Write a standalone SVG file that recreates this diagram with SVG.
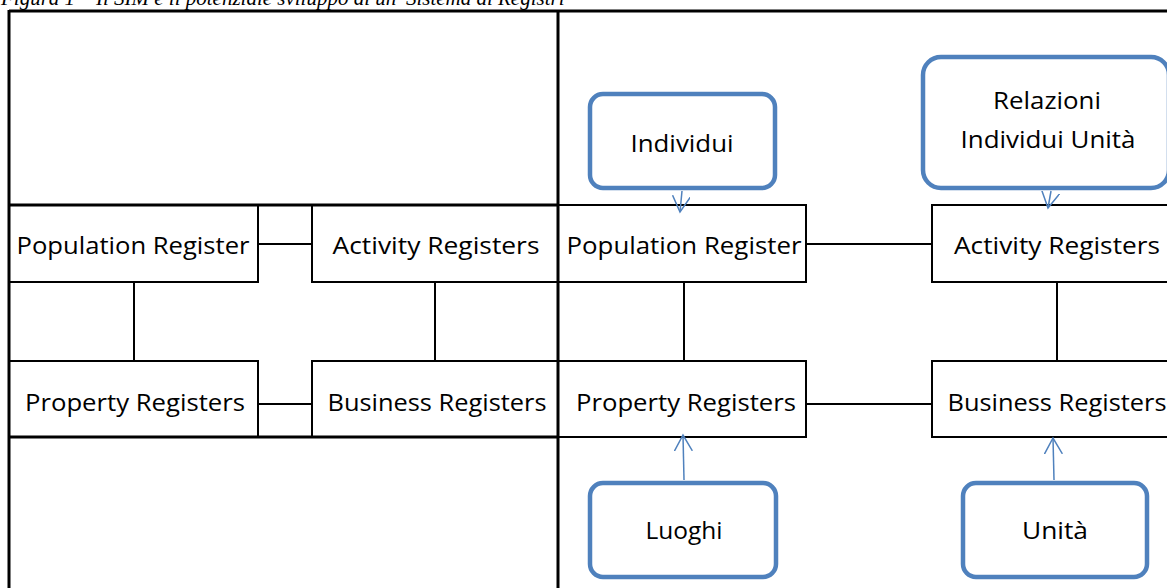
<svg xmlns="http://www.w3.org/2000/svg" width="1167" height="588" viewBox="0 0 1167 588">
<style>
.cap{font-family:"Liberation Serif",serif;font-style:italic;font-size:20px;fill:#000}
.t{font-family:"Open Sans","Liberation Sans",sans-serif;font-size:23px;fill:#000;text-anchor:middle}
.box{fill:#fff;stroke:#000;stroke-width:2}
.frame{fill:none;stroke:#000;stroke-width:3}
.conn{fill:none;stroke:#000;stroke-width:2}
.blue{fill:#fff;stroke:#4F81BD;stroke-width:4.5}
.arr{fill:none;stroke:#4F81BD;stroke-width:1.5}
</style>
<defs>
<marker id="ah" markerWidth="18" markerHeight="20" refX="16" refY="9" orient="auto" markerUnits="userSpaceOnUse">
<path d="M0,0 L16,9 L0,18" fill="none" stroke="#4F81BD" stroke-width="1.5"/>
</marker>
</defs>
<rect width="1167" height="588" fill="#fff"/>
<text class="cap" x="1" y="5" textLength="568" lengthAdjust="spacingAndGlyphs">Figura 1 – Il SIM e il potenziale sviluppo di un 'Sistema di Registri'</text>

<g id="left-pop"><rect class="box" x="9" y="205" width="249" height="77"/><text class="t" x="133" y="254" textLength="233" lengthAdjust="spacingAndGlyphs">Population Register</text></g>
<g id="left-act"><rect class="box" x="312" y="205" width="246" height="77"/><text class="t" x="436" y="254" textLength="207" lengthAdjust="spacingAndGlyphs">Activity Registers</text></g>
<g id="left-prop"><rect class="box" x="9" y="361" width="249" height="76"/><text class="t" x="135" y="411" textLength="220" lengthAdjust="spacingAndGlyphs">Property Registers</text></g>
<g id="left-bus"><rect class="box" x="312" y="361" width="246" height="76"/><text class="t" x="437" y="411" textLength="219" lengthAdjust="spacingAndGlyphs">Business Registers</text></g>

<g id="right-pop"><rect class="box" x="558" y="205" width="248" height="77"/><text class="t" x="684" y="254" textLength="235" lengthAdjust="spacingAndGlyphs">Population Register</text></g>
<g id="right-act"><rect class="box" x="932" y="205" width="250" height="77"/><text class="t" x="1057" y="254" textLength="206" lengthAdjust="spacingAndGlyphs">Activity Registers</text></g>
<g id="right-prop"><rect class="box" x="558" y="361" width="248" height="76"/><text class="t" x="686" y="411" textLength="220" lengthAdjust="spacingAndGlyphs">Property Registers</text></g>
<g id="right-bus"><rect class="box" x="932" y="361" width="250" height="76"/><text class="t" x="1057" y="411" textLength="219" lengthAdjust="spacingAndGlyphs">Business Registers</text></g>

<g id="frame">
<line class="frame" x1="9" y1="11" x2="1167" y2="11"/>
<line class="frame" x1="9" y1="10" x2="9" y2="588"/>
<line class="frame" x1="558" y1="10" x2="558" y2="588"/>
<line class="frame" x1="9" y1="205" x2="558" y2="205"/>
<line class="frame" x1="9" y1="437" x2="558" y2="437"/>
</g>

<g id="individui"><rect class="blue" x="590" y="94" width="185" height="94" rx="13"/><text class="t" x="682" y="152" textLength="103" lengthAdjust="spacingAndGlyphs">Individui</text></g>
<g id="relazioni"><rect class="blue" x="923" y="57" width="246" height="131" rx="18"/><text class="t" x="1047" y="109" textLength="108" lengthAdjust="spacingAndGlyphs">Relazioni</text><text class="t" x="1048" y="148" textLength="175" lengthAdjust="spacingAndGlyphs">Individui Unità</text></g>
<g id="luoghi"><rect class="blue" x="590" y="483" width="186" height="94" rx="13"/><text class="t" x="684" y="539" textLength="77" lengthAdjust="spacingAndGlyphs">Luoghi</text></g>
<g id="unita"><rect class="blue" x="963" y="483" width="184" height="94" rx="13"/><text class="t" x="1055" y="539" textLength="66" lengthAdjust="spacingAndGlyphs">Unità</text></g>

<g id="connectors">
<line class="conn" x1="258" y1="244" x2="312" y2="244"/>
<line class="conn" x1="258" y1="404" x2="312" y2="404"/>
<line class="conn" x1="134" y1="283" x2="134" y2="360"/>
<line class="conn" x1="435" y1="283" x2="435" y2="360"/>
<line class="conn" x1="807" y1="244" x2="931" y2="244"/>
<line class="conn" x1="807" y1="404" x2="931" y2="404"/>
<line class="conn" x1="684" y1="283" x2="684" y2="360"/>
<line class="conn" x1="1057" y1="283" x2="1057" y2="360"/>
<line class="arr" x1="682" y1="191" x2="680" y2="212" marker-end="url(#ah)"/>
<line class="arr" x1="1051" y1="191" x2="1048" y2="208" marker-end="url(#ah)"/>
<line class="arr" x1="684" y1="480" x2="683" y2="435" marker-end="url(#ah)"/>
<line class="arr" x1="1054" y1="480" x2="1053" y2="438" marker-end="url(#ah)"/>
</g>
</svg>
